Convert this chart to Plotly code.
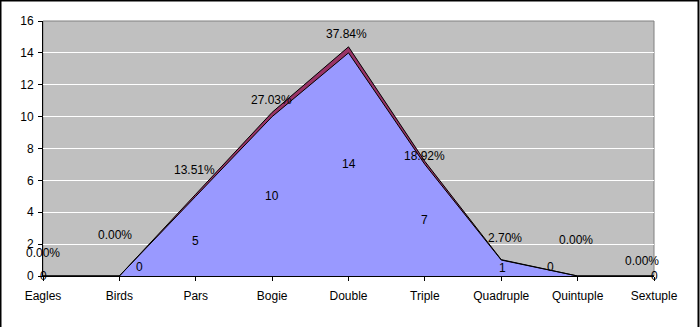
import plotly.graph_objects as go

categories = ["Eagles", "Birds", "Pars", "Bogie", "Double", "Triple", "Quadruple", "Quintuple", "Sextuple"]
counts = [0, 0, 5, 10, 14, 7, 1, 0, 0]
percents = [0.0, 0.0, 13.51, 27.03, 37.84, 18.92, 2.70, 0.0, 0.0]
y_ticks = [0, 2, 4, 6, 8, 10, 12, 14, 16]

# label pixel offsets (styling only)
pct_shift_x = [0, -4, -1, -1, -2, 0, 4, -2, -12]
pct_shift_y = [23, 41, 24, 12, 13, 5, 22, 36, 15]
cnt_shift_x = [0, 20, 0, 0, 0, 0, 1, -27, 0]
cnt_shift_y = [0, 9, -5, 0, 0, 0, 0, 9, 0]

W, H = 700, 327
L, R, T, B = 43, 46, 21, 51
pw, ph = W - L - R, H - T - B

fig = go.Figure()
xs = list(range(len(categories)))
fig.add_trace(go.Scatter(x=xs, y=counts, stackgroup="s", mode="lines",
                         line=dict(color="black", width=1), fillcolor="#9999FF", name="Count"))
fig.add_trace(go.Scatter(x=xs, y=[p / 100 for p in percents], stackgroup="s", mode="lines",
                         line=dict(color="black", width=1), fillcolor="#993366", name="Pct"))

font = dict(family="Liberation Sans, Arial, sans-serif", size=12, color="black")
for i, c in enumerate(categories):
    top = counts[i] + percents[i] / 100
    fig.add_annotation(x=i, y=top, text=f"{percents[i]:.2f}%", showarrow=False,
                       xshift=pct_shift_x[i], yshift=pct_shift_y[i], font=font)
    fig.add_annotation(x=i, y=counts[i] / 2, text=str(counts[i]), showarrow=False,
                       xshift=cnt_shift_x[i], yshift=cnt_shift_y[i], font=font)

# plot area border (gray) and outer frame (black)
fig.add_shape(type="rect", xref="paper", yref="paper", x0=0, y0=0, x1=1, y1=1,
              line=dict(color="#808080", width=1), layer="below")
fig.add_shape(type="rect", xref="paper", yref="paper",
              x0=(0.5 - L) / pw, x1=(W - 1.5 - L) / pw,
              y0=(B - (H - 1.5)) / ph + 0, y1=(H - 0.5 - B) / ph,
              line=dict(color="black", width=2))

fig.update_layout(
    width=W, height=H, margin=dict(l=L, r=R, t=T, b=B),
    paper_bgcolor="white", plot_bgcolor="#C0C0C0", showlegend=False, font=font,
    xaxis=dict(range=[0, len(categories) - 1], tickmode="array", tickvals=xs, ticktext=categories,
               showgrid=False, zeroline=False, showline=True, linecolor="black", linewidth=1,
               ticks="outside", ticklen=4, tickcolor="black", tickfont=font, ticklabelstandoff=5),
    yaxis=dict(range=[0, 16], tickmode="array", tickvals=y_ticks, showgrid=True, gridcolor="white",
               gridwidth=1, zeroline=False, showline=True, linecolor="black", linewidth=1,
               ticks="outside", ticklen=4, tickcolor="black", tickfont=font, ticklabelstandoff=2),
)
fig.write_html("out.html")
